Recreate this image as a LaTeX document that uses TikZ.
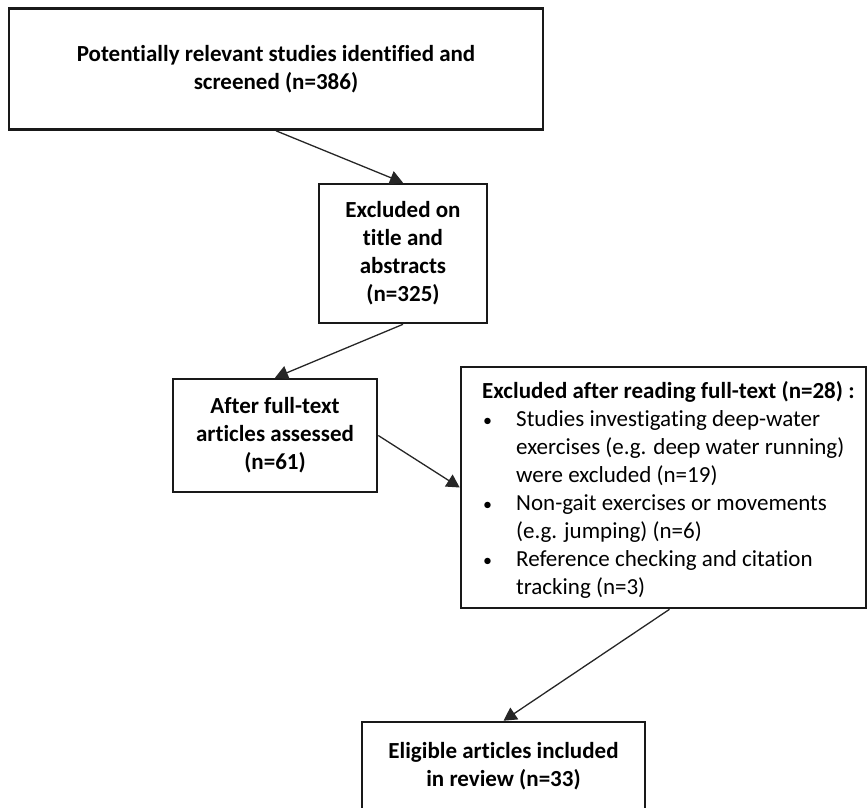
\documentclass[tikz,border=0pt]{standalone}
\usepackage{fontspec}
\setmainfont{Carlito}[Ligatures={NoCommon}]
\usetikzlibrary{arrows.meta}
\tikzset{
  box/.style={draw=black!90, line width=2.6pt, fill=white, inner sep=0pt,
    align=center, font=\fontsize{23}{28}\selectfont\bfseries, text=black},
  boxtext/.style={inner sep=0pt, align=center,
    font=\fontsize{23}{28}\selectfont\bfseries, text=black},
  conn/.style={draw=black!85, line width=1.3pt, -{Triangle[length=13pt,width=14pt]}},
  listtext/.style={inner sep=0pt, align=left,
    font=\fontsize{23}{28}\selectfont, text=black}
}
\newcommand{\bul}{\makebox[34pt][l]{\hspace{1pt}{\fontsize{18}{28}\selectfont\textbullet}}}
\newcommand{\ind}{\hspace*{34pt}}
\begin{document}
\begin{tikzpicture}[x=1pt,y=-1pt]
\useasboundingbox (0,0) rectangle (868,807);
\clip (0,0) rectangle (868,807);
\node[box, minimum width=534pt, minimum height=121pt] (b1) at (276,69)
  {Potentially relevant studies identified and\\screened (n=386)};
\node[box, minimum width=168pt, minimum height=139pt] (b2) at (403,253.5)
  {Excluded on\\title and\\abstracts\\(n=325)};
\node[box, minimum width=204pt, minimum height=113pt] (b3) at (275,435.5)
  {After full-text\\articles assessed\\(n=61)};
\node[box, minimum width=405pt, minimum height=241pt] (b4) at (663.5,487.5) {};
\node[listtext, anchor=north west] (b4t) at (482,381)
  {{\bfseries Excluded after reading full-text (n=28) :}\\
   \bul Studies investigating deep-water\\
   \ind exercises (e.g. deep water running)\\
   \ind were excluded (n=19)\\
   \bul Non-gait exercises or movements\\
   \ind (e.g. jumping) (n=6)\\
   \bul Reference checking and citation\\
   \ind tracking (n=3)};
\node[box, minimum width=283pt, minimum height=110pt] (b5) at (503.5,777) {};
\node[boxtext] (b5t) at (503.5,766.5)
  {Eligible articles included\\in review (n=33)};
\draw[conn] (b1.south) -- (b2.north);
\draw[conn] (b2.south) -- (b3.north);
\draw[conn] (b3.east) -- (b4.west);
\draw[conn] ([xshift=6pt]b4.south) -- (b5.north);
\end{tikzpicture}
\end{document}
